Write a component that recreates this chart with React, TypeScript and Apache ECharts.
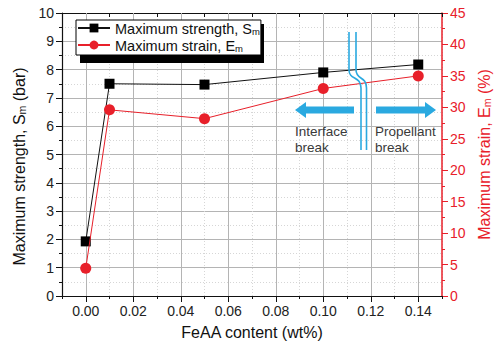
import React, { useEffect, useRef } from "react";
import * as echarts from "echarts";

const feaa = [0.0, 0.01, 0.05, 0.1, 0.14];
const strength = [1.93, 7.5, 7.47, 7.9, 8.18];
const strain = [4.4, 29.6, 28.2, 33.0, 35.0];
const xMajor = [0, 0.02, 0.04, 0.06, 0.08, 0.1, 0.12, 0.14];

const BLUE = "#2aa9e0";
const RED = "#e8202a";
const FONT = "Liberation Sans";

export default function App() {
  const ref = useRef<HTMLDivElement>(null);
  useEffect(() => {
    const chart = echarts.init(ref.current!, null, { renderer: "svg" });
    const sName = "Maximum strength, Sm";
    const eName = "Maximum strain, Em";
    const gridLeft = 62, gridRight = 442, gridTop = 13, gridBottom = 296;
    const blueCurve = (xTop: number, xBot: number) => [
      { type: "line", z: 100, shape: { x1: xTop, y1: 32, x2: xTop, y2: 70 }, style: { stroke: BLUE, lineWidth: 1.6 } },
      {
        type: "bezierCurve",
        z: 100,
        shape: { x1: xTop, y1: 70, cpx1: xTop, cpy1: 80, cpx2: xBot, cpy2: 76, x2: xBot, y2: 88 },
        style: { stroke: BLUE, lineWidth: 1.6, fill: "none" },
      },
      { type: "line", z: 100, shape: { x1: xBot, y1: 88, x2: xBot, y2: 150 }, style: { stroke: BLUE, lineWidth: 1.6 } },
    ];
    const annot = (x: number, y: number, t: string) => ({
      type: "text",
      z: 100,
      x,
      y,
      style: { text: t, fill: "#3a3a3a", font: "13.5px 'Liberation Sans'", verticalAlign: "top" },
    });
    const sub = (color: string, size: number, subSize: number, lh: number) => ({
      a: { fontSize: size, fontFamily: FONT, color, lineHeight: lh, verticalAlign: "bottom" },
      b: { fontSize: subSize, fontFamily: FONT, color, lineHeight: 5, verticalAlign: "bottom" },
    });
    const option: any = {
      animation: false,
      textStyle: { fontFamily: FONT },
      grid: {
        left: gridLeft,
        right: 494 - gridRight,
        top: gridTop,
        bottom: 343 - gridBottom,
        containLabel: false,
        outerBoundsMode: "none",
      },
      legend: {
        data: [sName, eName],
        orient: "vertical",
        left: 76,
        top: 20,
        padding: [1.5, 1, 1.5, 1],
        itemGap: 2,
        itemWidth: 32,
        itemHeight: 11,
        backgroundColor: "#fff",
        borderColor: "#000",
        borderWidth: 1,
        borderRadius: 0,
        z: 20,
        formatter: (n: string) =>
          n === sName ? "{a|Maximum strength, S}{b|m}" : "{a|Maximum strain, E}{b|m}",
        textStyle: { color: "#111", rich: sub("#111", 14.5, 9.5, 17) },
      },
      xAxis: [
        {
          type: "value",
          min: -0.01,
          max: 0.15,
          interval: 0.01,
          position: "bottom",
          name: "FeAA content (wt%)",
          nameLocation: "middle",
          nameGap: 28,
          nameTextStyle: { fontSize: 16, color: "#111", fontFamily: FONT },
          axisLine: { show: true, onZero: false, lineStyle: { color: "#111", width: 1.2 } },
          axisTick: { show: true, inside: false, length: 3, lineStyle: { color: "#111" } },
          axisLabel: {
            show: true,
            fontSize: 14,
            color: "#222",
            margin: 8,
            formatter: (v: number) => {
              const k = Math.round(v * 100);
              return k >= 0 && k % 2 === 0 ? v.toFixed(2) : "";
            },
          },
          splitLine: { show: true, lineStyle: { color: "#d6d6d6", type: [1, 2], width: 1 } },
        },
        {
          type: "value",
          min: -0.01,
          max: 0.15,
          position: "bottom",
          axisLine: { show: false, onZero: false },
          axisTick: { show: true, length: 6, customValues: xMajor, lineStyle: { color: "#111" } },
          axisLabel: { show: false, customValues: xMajor },
          splitLine: { show: false },
        },
        {
          type: "value",
          min: -0.01,
          max: 0.15,
          interval: 0.01,
          position: "top",
          axisLine: { show: true, onZero: false, lineStyle: { color: "#111", width: 1.2 } },
          axisTick: { show: true, inside: true, length: 4, lineStyle: { color: "#111" } },
          axisLabel: { show: false },
          splitLine: { show: false },
        },
      ],
      yAxis: [
        {
          type: "value",
          min: 0,
          max: 10,
          interval: 1,
          position: "left",
          name: "{a|Maximum strength, S}{b|m}{a| (bar)}",
          nameLocation: "middle",
          nameRotate: 90,
          nameGap: 33,
          nameTextStyle: { rich: sub("#111", 16, 10.5, 20), padding: [0, 24, 0, 0] },
          axisLine: { show: true, onZero: false, lineStyle: { color: "#111", width: 1.2 } },
          axisTick: { show: true, length: 6, lineStyle: { color: "#111" } },
          minorTick: { show: true, splitNumber: 2, length: 3, lineStyle: { color: "#111" } },
          axisLabel: { fontSize: 14, color: "#222", margin: 8 },
          splitLine: { show: true, lineStyle: { color: "#b4b4b4", width: 1 } },
          minorSplitLine: { show: true, lineStyle: { color: "#d6d6d6", type: [1, 2], width: 1 } },
        },
        {
          type: "value",
          min: 0,
          max: 45,
          interval: 5,
          position: "right",
          name: "{a|Maximum strain, E}{b|m}{a| (%)}",
          nameLocation: "middle",
          nameRotate: 90,
          nameGap: 29,
          nameTextStyle: { rich: sub(RED, 16, 10.5, 20) },
          axisLine: { show: true, onZero: false, lineStyle: { color: RED, width: 1.5 } },
          axisTick: { show: true, length: 6, lineStyle: { color: RED } },
          minorTick: { show: true, splitNumber: 2, length: 3, lineStyle: { color: RED } },
          axisLabel: { fontSize: 14, color: RED, margin: 8 },
          splitLine: { show: false },
        },
      ],
      series: [
        {
          name: "grid",
          type: "line",
          xAxisIndex: 0,
          yAxisIndex: 0,
          data: [],
          silent: true,
          z: 1,
          markLine: {
            silent: true,
            z: 2,
            symbol: ["none", "none"],
            label: { show: false },
            lineStyle: { color: "#b4b4b4", type: "solid", width: 1, opacity: 1 },
            emphasis: { disabled: true },
            data: xMajor.map((v) => ({ xAxis: v })),
          },
        },
        {
          name: sName,
          type: "line",
          xAxisIndex: 0,
          yAxisIndex: 0,
          data: feaa.map((x, i) => [x, strength[i]]),
          symbol: "rect",
          symbolSize: 10,
          lineStyle: { color: "#111", width: 1 },
          itemStyle: { color: "#000" },
          z: 3,
        },
        {
          name: eName,
          type: "line",
          xAxisIndex: 0,
          yAxisIndex: 1,
          data: feaa.map((x, i) => [x, strain[i]]),
          symbol: "circle",
          symbolSize: 11,
          lineStyle: { color: RED, width: 1 },
          itemStyle: { color: RED },
          z: 4,
        },
      ],
      graphic: [
        // legend shadow
        { type: "rect", z: 19, shape: { x: 80, y: 24, width: 184, height: 39 }, style: { fill: "#000" } },
        // left arrow
        { type: "polygon", z: 100, shape: { points: [[295, 110], [306, 102], [306, 106.5], [354, 106.5], [354, 113.5], [306, 113.5], [306, 118]] }, style: { fill: BLUE } },
        // right arrow
        { type: "polygon", z: 100, shape: { points: [[436, 110], [425, 102], [425, 106.5], [376, 106.5], [376, 113.5], [425, 113.5], [425, 118]] }, style: { fill: BLUE } },
        ...blueCurve(349, 361),
        ...blueCurve(356, 366.5),
        annot(295, 124, "Interface"),
        annot(295, 140, "break"),
        annot(375, 124, "Propellant"),
        annot(375, 140, "break"),
      ],
    };
    chart.setOption(option);
    return () => chart.dispose();
  }, []);
  return <div ref={ref} style={{ width: 494, height: 343, position: "absolute", left: 0, top: 0, background: "#fff" }} />;
}
